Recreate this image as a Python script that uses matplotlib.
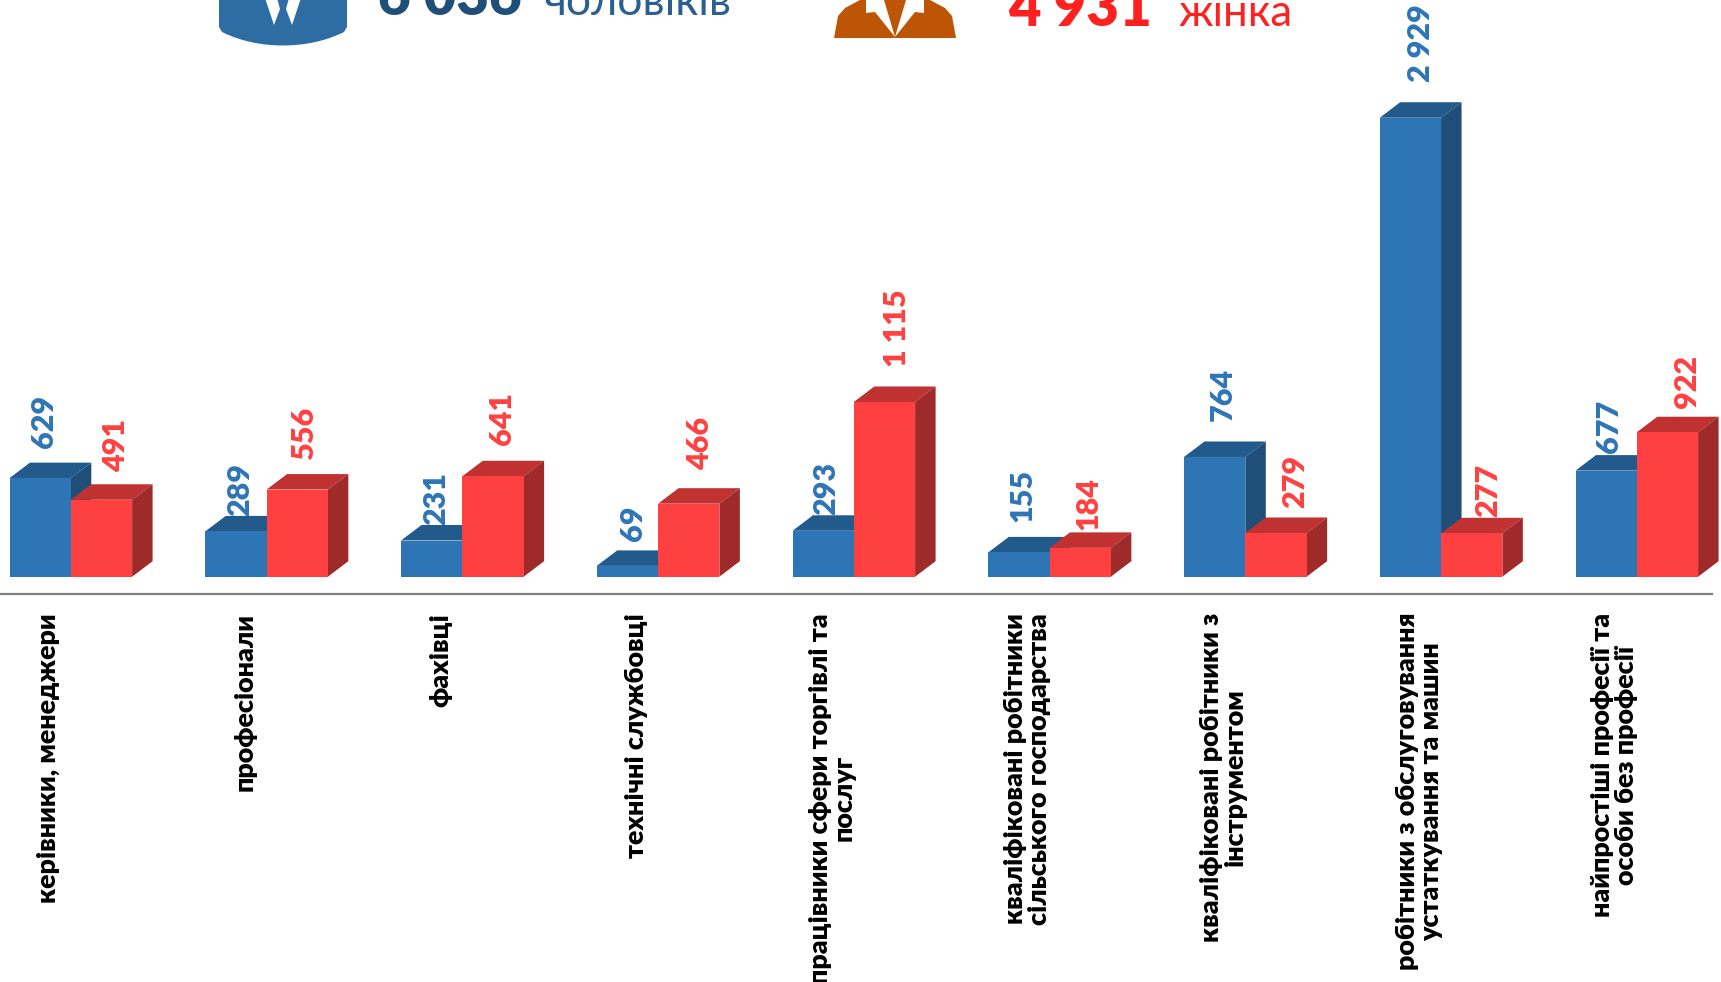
"""Occupations by sex: pseudo-3D grouped bars with rotated labels."""

import matplotlib

matplotlib.use("Agg")
import matplotlib.pyplot as plt
import numpy as np
from matplotlib.patches import PathPatch, Polygon
from matplotlib.path import Path

CATEGORIES = [
    "керівники, менеджери",
    "професіонали",
    "фахівці",
    "технічні службовці",
    "працівники сфери торгівлі та\nпослуг",
    "кваліфіковані робітники\nсільського господарства",
    "кваліфіковані робітники з\nінструментом",
    "робітники з обслуговування\nустаткування та машин",
    "найпростіші професії та\nособи без професії",
]
MEN = [629, 289, 231, 69, 293, 155, 764, 2929, 677]
WOMEN = [491, 556, 641, 466, 1115, 184, 279, 277, 922]
MEN_TOTAL = "6 036"
WOMEN_TOTAL = "4 931"
MEN_WORD = "чоловіків"
WOMEN_WORD = "жінка"

W, H = 1721, 982
BASE_Y = 576.7
PX_PER_UNIT = 0.1567
LEFT, PITCH, BAR_W = 9.5, 195.75, 61.3
DX, DY = 20.5, 15.5

BLUE = ("#2E75B6", "#235A8C", "#1F4E79")
RED = ("#FF4040", "#C03232", "#9E2A2A")

FONT = ["Lato", "Open Sans", "DejaVu Sans"]
plt.rcParams["font.family"] = FONT

# hand-placed value labels (centre x, bottom y), in shrunk-reference pixels
MEN_LABEL_POS = [(40, 408), (219, 470), (397, 478), (577, 493), (753, 469),
                 (932, 476), (1114, 384), (1295, 75), (1466, 413)]
WOMEN_LABEL_POS = [(106, 430), (277, 418), (457, 405), (638, 428), (817, 334),
                   (992, 483), (1180, 463), (1356, 471), (1537, 372)]
SHRINK = W / 1568


def draw_bars(ax, xs, values, shades):
    front, top, side = shades
    dy = DY / PX_PER_UNIT
    for x, v in zip(xs, values):
        ax.add_patch(Polygon([(x, v), (x + DX, v + dy), (x + BAR_W + DX, v + dy),
                              (x + BAR_W, v)], fc=top, ec="none"))
        ax.add_patch(Polygon([(x + BAR_W, 0), (x + BAR_W + DX, dy),
                              (x + BAR_W + DX, v + dy), (x + BAR_W, v)],
                             fc=side, ec="none"))
    ax.bar(xs, values, width=BAR_W, align="edge", color=front, zorder=2)


def man_icon(px):
    verts = [(219, -5), (219, 27), (222, 32), (258, 50), (308, 50), (344, 32), (347, 27),
             (347, -5), (219, -5)]
    codes = [Path.MOVETO, Path.LINETO, Path.LINETO, Path.CURVE4, Path.CURVE4, Path.CURVE4,
             Path.LINETO, Path.LINETO, Path.CLOSEPOLY]
    px.add_patch(PathPatch(Path(verts, codes), fc="#2E6DA4", ec="none"))
    px.add_patch(Polygon([(265, -2), (274, 25), (280, 9), (277, -2)], fc="white", ec="none"))
    px.add_patch(Polygon([(301, -2), (292, 25), (286, 9), (289, -2)], fc="white", ec="none"))


def woman_icon(px):
    px.add_patch(Polygon([(834, 38), (838, 16), (845, 8), (860, 0), (930, 0), (945, 8),
                          (952, 16), (956, 38)], fc="#BC5505", ec="none"))
    px.add_patch(Polygon([(866, 0), (866, 13), (875, 12), (895, 37), (884, 0)],
                         fc="white", ec="none"))
    px.add_patch(Polygon([(924, 0), (924, 13), (915, 12), (895, 37), (906, 0)],
                         fc="white", ec="none"))


def main():
    fig = plt.figure(figsize=(W / 100, H / 100), dpi=100)
    ax = fig.add_axes([0, 0, 1, 1])
    ax.set_xlim(0, W)
    ax.set_ylim(-(H - BASE_Y) / PX_PER_UNIT, BASE_Y / PX_PER_UNIT)
    ax.axis("off")

    px = fig.add_axes([0, 0, 1, 1], facecolor="none")
    px.set_xlim(0, W)
    px.set_ylim(H, 0)
    px.axis("off")

    xs = LEFT + PITCH * np.arange(len(CATEGORIES))
    draw_bars(ax, xs, MEN, BLUE)
    draw_bars(ax, xs + BAR_W, WOMEN, RED)

    px.plot([0, 1712], [594, 594], color="#808080", lw=1.6)

    for v, (x, y) in zip(MEN, MEN_LABEL_POS):
        px.text(x * SHRINK, y * SHRINK, f"{v:,}".replace(",", " "), rotation=90,
                ha="center", va="bottom", color="#2E75B6", fontsize=22, fontweight="heavy")
    for v, (x, y) in zip(WOMEN, WOMEN_LABEL_POS):
        px.text(x * SHRINK, y * SHRINK, f"{v:,}".replace(",", " "), rotation=90,
                ha="center", va="bottom", color="#FF4040", fontsize=22, fontweight="heavy")

    for x, name in zip(xs, CATEGORIES):
        px.text(x + 39, 613, name, rotation=90, ha="center", va="top",
                multialignment="center", fontsize=19.4, fontweight="heavy",
                color="black", linespacing=1.0)

    man_icon(px)
    woman_icon(px)
    px.text(378, 15, MEN_TOTAL, color="#1F4E79", fontsize=40.5, fontweight="heavy", va="baseline")
    px.text(543, 15, MEN_WORD, color="#2A5F8F", fontsize=32, va="baseline")
    px.text(1008, 26, WOMEN_TOTAL, color="#FF2020", fontsize=40.5, fontweight="heavy", va="baseline")
    px.text(1178, 26, WOMEN_WORD, color="#FF2020", fontsize=31.5, va="baseline")

    fig.savefig("out.png", dpi=100)


if __name__ == "__main__":
    main()
